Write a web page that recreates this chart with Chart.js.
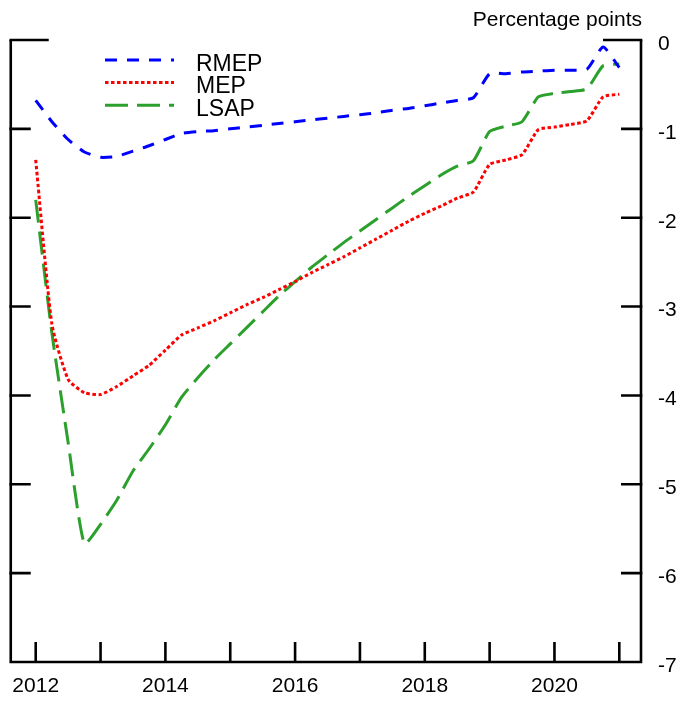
<!DOCTYPE html>
<html>
<head>
<meta charset="utf-8">
<script src="https://cdn.jsdelivr.net/npm/chart.js@4.4.1/dist/chart.umd.min.js"></script>
<style>
html,body{margin:0;padding:0;background:#ffffff;}
#wrap{width:678px;height:702px;position:relative;}
</style>
</head>
<body>
<div id="wrap"><canvas id="c" width="678" height="702"></canvas></div>
<script>
// ---- Data (quarterly) ----
const quarters = [
  2012.00, 2012.25, 2012.50, 2012.75,
  2013.00, 2013.25, 2013.50, 2013.75,
  2014.00, 2014.25, 2014.50, 2014.75,
  2015.00, 2015.25, 2015.50, 2015.75,
  2016.00, 2016.25, 2016.50, 2016.75,
  2017.00, 2017.25, 2017.50, 2017.75,
  2018.00, 2018.25, 2018.50, 2018.75,
  2019.00, 2019.25, 2019.50, 2019.75,
  2020.00, 2020.25, 2020.50, 2020.75,
  2021.00
];
const rmep = [
  -0.68, -0.92, -1.12, -1.26,
  -1.32, -1.31, -1.25, -1.19,
  -1.12, -1.05, -1.03, -1.02,
  -1.00, -0.98, -0.96, -0.94,
  -0.92, -0.90, -0.88, -0.86,
  -0.84, -0.82, -0.79, -0.77,
  -0.74, -0.71, -0.68, -0.65,
  -0.38, -0.38, -0.36, -0.35,
  -0.34, -0.34, -0.33, -0.08,
  -0.31
];
const mep = [
  -1.35, -3.20, -3.82, -3.97,
  -3.99, -3.90, -3.78, -3.66,
  -3.49, -3.32, -3.24, -3.16,
  -3.07, -2.98, -2.90, -2.81,
  -2.72, -2.62, -2.53, -2.44,
  -2.34, -2.24, -2.14, -2.04,
  -1.95, -1.87, -1.78, -1.71,
  -1.40, -1.35, -1.29, -1.01,
  -0.98, -0.95, -0.91, -0.64,
  -0.61
];
const lsap = [
  -1.80, -3.30, -4.53, -5.67,
  -5.45, -5.18, -4.85, -4.60,
  -4.33, -4.02, -3.80, -3.60,
  -3.42, -3.24, -3.06, -2.88,
  -2.72, -2.56, -2.42, -2.28,
  -2.15, -2.02, -1.89, -1.76,
  -1.64, -1.52, -1.42, -1.36,
  -1.03, -0.97, -0.92, -0.64,
  -0.60, -0.58, -0.55, -0.29,
  -0.27
];
const seriesNames = ['RMEP', 'MEP', 'LSAP'];
const xLabelYears = [2012, 2014, 2016, 2018, 2020];
const yTickValues = [0, -1, -2, -3, -4, -5, -6, -7];
const unitLabel = 'Percentage points';

// ---- Styling ----
const FONT = "'Liberation Sans', Arial, Helvetica, sans-serif";
const colors = ['#0000ff', '#ff0000', '#2ca02c'];
const dashes = [[12, 10], [3.5, 2.5], [23, 9]];

function toPoints(vals) {
  return vals.map((v, i) => ({ x: quarters[i], y: v }));
}

const framePlugin = {
  id: 'framePlugin',
  afterDatasetsDraw(chart) {
    const ctx = chart.ctx;
    const a = chart.chartArea;
    const xs = chart.scales.x;
    const ys = chart.scales.y;
    ctx.save();
    ctx.strokeStyle = '#000';
    ctx.lineWidth = 2.6;
    ctx.lineCap = 'butt';
    const L = a.left, R = a.right - 1, T = a.top, B = a.bottom;
    // left, right, bottom border
    ctx.beginPath();
    ctx.moveTo(L, T); ctx.lineTo(L, B);
    ctx.moveTo(R, T); ctx.lineTo(R, B);
    ctx.moveTo(L - 1.3, B); ctx.lineTo(R + 1.3, B);
    ctx.stroke();
    // y ticks (inward, both sides)
    ctx.beginPath();
    yTickValues.forEach(v => {
      if (v === -7) return;
      const y = ys.getPixelForValue(v);
      const len = v === 0 ? 38 : 20;
      ctx.moveTo(L - 1.3, y); ctx.lineTo(L + len, y);
      ctx.moveTo(R + 1.3, y); ctx.lineTo(R - len, y);
    });
    ctx.stroke();
    // x ticks (inward, every year)
    ctx.beginPath();
    xs.ticks.forEach(t => {
      const x = xs.getPixelForValue(t.value);
      ctx.moveTo(x, B); ctx.lineTo(x, B - 20);
    });
    ctx.stroke();

    // unit label
    ctx.fillStyle = '#000';
    ctx.font = '21px ' + FONT;
    ctx.textAlign = 'right';
    ctx.textBaseline = 'alphabetic';
    ctx.fillText(unitLabel, R + 1, 26);

    // legend
    const rows = [60, 82.5, 105.3];
    const baselines = [70.7, 93.3, 116];
    chart.data.datasets.forEach((ds, i) => {
      ctx.save();
      ctx.strokeStyle = ds.borderColor;
      ctx.lineWidth = 3;
      ctx.setLineDash(ds.borderDash);
      ctx.beginPath();
      ctx.moveTo(105, rows[i]);
      ctx.lineTo(174, rows[i]);
      ctx.stroke();
      ctx.restore();
      ctx.fillStyle = '#000';
      ctx.font = '23px ' + FONT;
      ctx.textAlign = 'left';
      ctx.textBaseline = 'alphabetic';
      ctx.fillText(ds.label, 196, baselines[i]);
    });
    ctx.restore();
  }
};

new Chart(document.getElementById('c'), {
  type: 'line',
  data: {
    datasets: [rmep, mep, lsap].map((vals, i) => ({
      label: seriesNames[i],
      data: toPoints(vals),
      borderColor: colors[i],
      backgroundColor: colors[i],
      borderWidth: 3,
      borderDash: dashes[i],
      pointRadius: 0,
      fill: false,
      tension: 0.18
    }))
  },
  options: {
    responsive: false,
    animation: false,
    devicePixelRatio: 1,
    layout: { padding: { left: 9, top: 40, right: 0, bottom: 0 } },
    plugins: {
      legend: { display: false },
      tooltip: { enabled: false },
      title: { display: false }
    },
    scales: {
      x: {
        type: 'linear',
        position: 'bottom',
        min: 2011.615,
        max: 2021.35,
        grid: { display: false, drawTicks: false },
        border: { display: false },
        afterFit(scale) { scale.height = 40; },
        ticks: {
          stepSize: 1,
          includeBounds: false,
          autoSkip: false,
          maxRotation: 0,
          padding: 12,
          color: '#000',
          font: { family: FONT, size: 21 },
          callback: (v) => xLabelYears.includes(v) ? String(v) : ''
        }
      },
      y: {
        type: 'linear',
        position: 'right',
        min: -7,
        max: 0,
        grid: { display: false, drawTicks: false },
        border: { display: false },
        afterFit(scale) { scale.width = 36; },
        afterBuildTicks(scale) { scale.ticks = yTickValues.map(v => ({ value: v })); },
        ticks: {
          autoSkip: false,
          padding: 16,
          labelOffset: 4,
          color: '#000',
          font: { family: FONT, size: 21 },
          callback: (v) => String(v)
        }
      }
    }
  },
  plugins: [framePlugin]
});
</script>
</body>
</html>
